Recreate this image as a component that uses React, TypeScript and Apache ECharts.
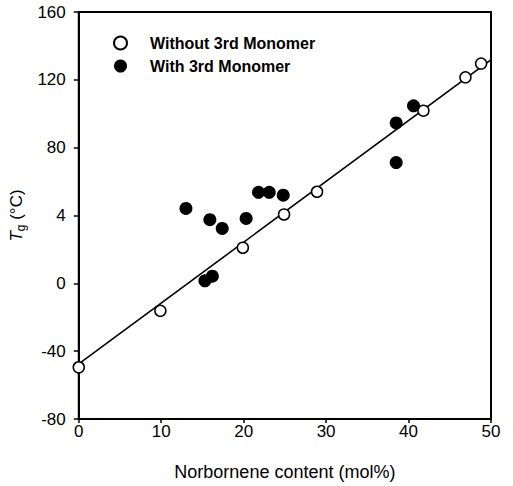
import React, { useEffect, useRef } from "react";
import * as echarts from "echarts";

const withoutX = [0, 9.9, 19.9, 24.9, 28.9, 41.8, 46.9, 48.8];
const withoutY = [-49.5, -16.2, 21, 40.6, 54, 101.8, 121.5, 129.6];
const withX = [13.0, 15.3, 16.2, 15.9, 17.4, 20.3, 21.8, 23.1, 24.8, 38.5, 38.5, 40.6];
const withY = [44.2, 1.5, 4.2, 37.5, 32.4, 38.3, 53.7, 53.7, 52, 94.6, 71.2, 104.7];
const fitX = [0, 50.6];
const fitY = [-47.5, 134];
const yTickValues = [-80, -40, 0, 40, 80, 120, 160];
const yTickLabels = ["-80", "-40", "0", "4", "80", "120", "160"];
const xTickLabels = ["0", "10", "20", "30", "40", "50"];
const seriesNames = ["Without 3rd Monomer", "With 3rd Monomer"];

const FONT = "'Liberation Sans', Arial, Helvetica, sans-serif";

export default function App() {
  const ref = useRef<HTMLDivElement>(null);
  useEffect(() => {
    if (!ref.current) return;
    const chart = echarts.init(ref.current, undefined, { renderer: "svg" });
    const zip = (xs: number[], ys: number[]) => xs.map((x, i) => [x, ys[i]]);
    chart.setOption({
      animation: false,
      backgroundColor: "#ffffff",
      grid: {
        left: 78,
        right: 22,
        top: 12,
        bottom: 56,
        show: true,
        borderColor: "#000",
        borderWidth: 2,
        backgroundColor: "transparent",
      },
      legend: {
        orient: "vertical",
        left: 108,
        top: 30,
        itemWidth: 13,
        itemHeight: 13,
        itemGap: 7,
        data: seriesNames,
        textStyle: {
          fontFamily: FONT,
          fontWeight: "bold",
          fontSize: 16,
          color: "#000",
          padding: [0, 0, 0, 18],
          lineHeight: 16,
        },
      },
      xAxis: {
        type: "value",
        min: 0,
        max: 50,
        interval: 10,
        name: "Norbornene content (mol%)",
        nameLocation: "middle",
        nameGap: 44,
        nameTextStyle: { fontFamily: FONT, fontSize: 18, color: "#000", letterSpacing: 0.8 } as any,
        axisLine: { show: true, onZero: false, lineStyle: { color: "#000", width: 2 } },
        axisTick: { show: true, inside: false, length: 4, lineStyle: { color: "#000", width: 1.5 } },
        axisLabel: {
          margin: 4,
          fontFamily: FONT,
          fontSize: 17,
          color: "#000",
          formatter: (v: number) => xTickLabels[Math.round(v / 10)] ?? String(v),
        },
        splitLine: { show: false },
      },
      yAxis: {
        type: "value",
        min: -80,
        max: 160,
        interval: 40,
        name: "{i|T}{s|g} {n|(°C)}",
        nameLocation: "middle",
        nameGap: 50,
        nameRotate: 90,
        nameTextStyle: {
          fontFamily: FONT,
          fontSize: 17,
          color: "#000",
          rich: {
            i: { fontFamily: FONT, fontSize: 17, fontStyle: "italic", color: "#000" },
            s: { fontFamily: FONT, fontSize: 12, color: "#000", padding: [8, 0, 0, 0] },
            n: { fontFamily: FONT, fontSize: 17, color: "#000" },
          },
        },
        axisLine: { show: true, onZero: false, lineStyle: { color: "#000", width: 2 } },
        axisTick: { show: true, inside: false, length: 5, lineStyle: { color: "#000", width: 1.5 } },
        axisLabel: {
          margin: 13,
          fontFamily: FONT,
          fontSize: 17,
          color: "#000",
          formatter: (v: number) => {
            const i = yTickValues.indexOf(v);
            return i >= 0 ? yTickLabels[i] : String(v);
          },
        },
        splitLine: { show: false },
      },
      series: [
        {
          name: "fit",
          type: "line",
          data: zip(fitX, fitY),
          symbol: "none",
          clip: false,
          silent: true,
          lineStyle: { color: "#000", width: 1.6 },
          z: 1,
        },
        {
          name: seriesNames[0],
          type: "scatter",
          data: zip(withoutX, withoutY),
          symbol: "circle",
          symbolSize: 11,
          itemStyle: { color: "#fff", borderColor: "#000", borderWidth: 1.5, opacity: 1 },
          z: 3,
        },
        {
          name: seriesNames[1],
          type: "scatter",
          data: zip(withX, withY),
          symbol: "circle",
          symbolSize: 13,
          itemStyle: { color: "#000", borderColor: "#000", borderWidth: 0, opacity: 1 },
          z: 3,
        },
      ],
    });
    return () => chart.dispose();
  }, []);
  return <div ref={ref} style={{ width: 513, height: 486, position: "absolute", left: 0, top: 0 }} />;
}
